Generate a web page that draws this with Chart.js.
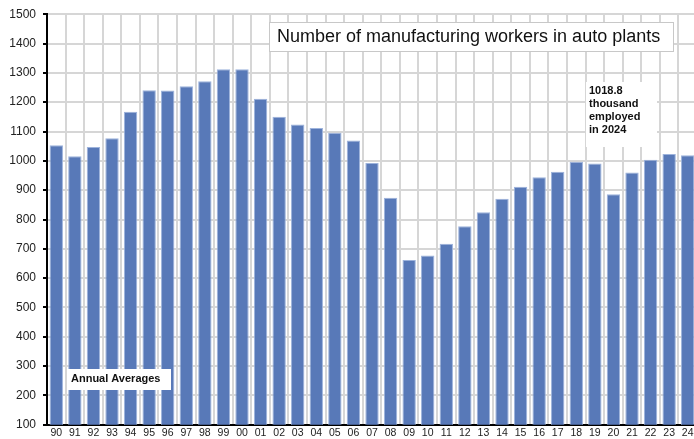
<!DOCTYPE html>
<html>
<head>
<meta charset="utf-8">
<script src="https://cdn.jsdelivr.net/npm/chart.js@4/dist/chart.umd.min.js"></script>
<style>
  html, body { margin: 0; padding: 0; background: #fff; overflow: hidden; }
  #wrap { width: 694px; height: 439px; overflow: hidden; }
</style>
</head>
<body>
<div id="wrap"><canvas id="autoChart" width="697" height="439"></canvas></div>
<script>
const years = ["90","91","92","93","94","95","96","97","98","99","00","01","02","03","04","05","06","07","08","09","10","11","12","13","14","15","16","17","18","19","20","21","22","23","24"];
const workers = [1053,1016,1047,1077,1167,1241,1240,1254,1271,1312,1312,1212,1150,1124,1112,1096,1069,993,874,662,677,717,777,825,871,912,944,963,997,991,886,960,1004,1023,1018.8];
const titleText = "Number of manufacturing workers in auto plants";
const noteLines = ["1018.8", "thousand", "employed", "in 2024"];
const footText = "Annual Averages";

/* ---------- TEXT BOXES ---------- */
const boxes = {
  id: "boxes",
  afterDatasetsDraw(chart) {
    const ctx = chart.ctx;
    ctx.save();

    // title
    ctx.fillStyle = "#fff";
    ctx.fillRect(269, 22, 404, 29);
    ctx.strokeStyle = "#c8c8c8";
    ctx.lineWidth = 1;
    ctx.strokeRect(269.5, 22.5, 404, 29);
    ctx.fillStyle = "#111";
    ctx.font = "18px 'Liberation Sans', Arial, sans-serif";
    ctx.textBaseline = "middle";
    ctx.fillText(titleText, 277, 37.5);

    // note
    ctx.fillStyle = "#fff";
    ctx.fillRect(586, 82, 71, 65);
    ctx.fillStyle = "#111";
    ctx.font = "bold 11px 'Liberation Sans', Arial, sans-serif";
    noteLines.forEach((t, i) => ctx.fillText(t, 589, 91 + i * 13));

    // annual averages
    ctx.fillStyle = "#fff";
    ctx.fillRect(68, 369, 103, 21);
    ctx.fillStyle = "#111";
    ctx.fillText(footText, 71, 378.5);

    ctx.restore();
  }
};

new Chart(document.getElementById("autoChart"), {
  type: "bar",
  data: {
    labels: years,
    datasets: [{
      data: workers,
      backgroundColor: "#5879b8",
      borderColor: "#9db3dc",
      borderWidth: 1,
      barPercentage: 0.72,
      categoryPercentage: 1
    }]
  },
  options: {
    responsive: false,
    animation: false,
    layout: { padding: { top: 14, right: 0, left: 0, bottom: 0 } },
    plugins: { legend: { display: false }, tooltip: { enabled: false } },
    scales: {
      x: {
        afterFit: (axis) => { axis.height = 14; },
        grid: { offset: true, color: "#d6d6d6", lineWidth: 2, drawTicks: false },
        border: { color: "#000", width: 2 },
        ticks: {
          color: "#222",
          font: { family: "'Liberation Sans', Arial, sans-serif", size: 10.5 },
          padding: 2,
          maxRotation: 0,
          autoSkip: false
        }
      },
      y: {
        min: 100,
        max: 1500,
        afterFit: (axis) => { axis.width = 47; },
        grid: { color: "#d6d6d6", lineWidth: 2, drawTicks: true, tickLength: 4, tickColor: "#000" },
        border: { color: "#000", width: 2 },
        ticks: {
          stepSize: 100,
          color: "#222",
          font: { family: "'Liberation Sans', Arial, sans-serif", size: 12 },
          padding: 7,
          callback: (v) => String(v)
        }
      }
    }
  },
  plugins: [boxes]
});
</script>
</body>
</html>
